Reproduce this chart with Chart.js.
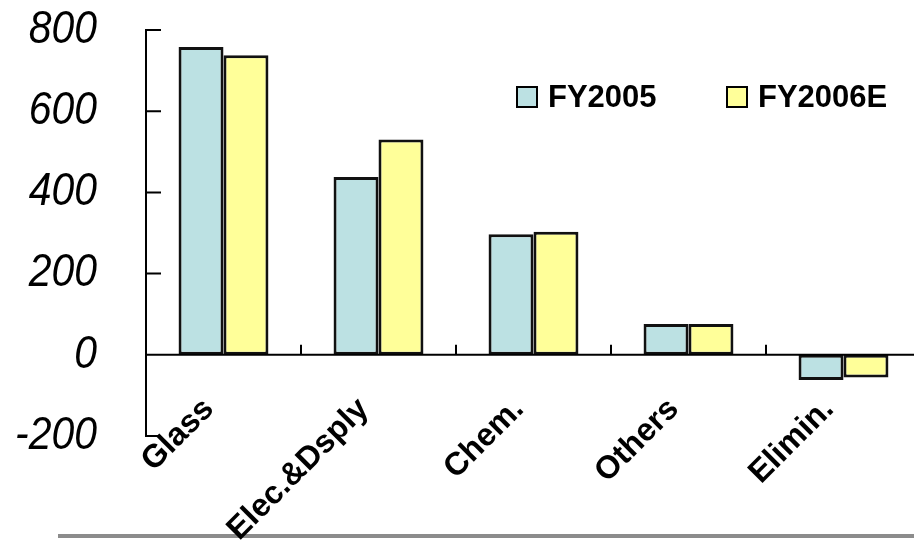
<!DOCTYPE html>
<html>
<head>
<meta charset="utf-8">
<script src="https://cdn.jsdelivr.net/npm/chart.js@4"></script>
<style>
  html, body { margin: 0; padding: 0; background: #fff; overflow: hidden; }
  #wrap { width: 940px; height: 541px; }
</style>
</head>
<body>
<div id="wrap"><canvas id="grafico" width="940" height="541"></canvas></div>
<script>
// Ventas por segmento
const categories = ['Glass', 'Elec.&Dsply', 'Chem.', 'Others', 'Elimin.'];
const fy2005 = [758, 438, 297, 76, -62];
const fy2006e = [738, 530, 303, 76, -56];
const yTicks = [-200, 0, 200, 400, 600, 800];
const seriesNames = ['FY2005', 'FY2006E'];

// ejes, marcas, etiquetas giradas y leyenda
const decor = {
    id: 'decor',
    beforeDraw(chart) {
        const ctx = chart.ctx;
        ctx.save();
        ctx.fillStyle = '#8c8c8c';
        ctx.fillRect(58, 534, chart.width, 4);
        ctx.restore();
    },
    afterDatasetsDraw(chart) {
        const ctx = chart.ctx;
        const area = chart.chartArea;
        const x = chart.scales.x;
        const y = chart.scales.y;
        const y0 = y.getPixelForValue(0);

        ctx.save();
        ctx.strokeStyle = '#000';
        ctx.lineWidth = 2;
        ctx.beginPath();
        ctx.moveTo(area.left, y0);
        ctx.lineTo(chart.width, y0);
        yTicks.forEach(function (v) {
            const py = y.getPixelForValue(v);
            ctx.moveTo(area.left, py);
            ctx.lineTo(area.left + 15, py);
        });
        for (let i = 0; i <= categories.length; i++) {
            const px = x.getPixelForValue(i - 0.5);
            ctx.moveTo(px, y0);
            ctx.lineTo(px, y0 - 10);
        }
        ctx.stroke();

        // numeros del eje y (cursiva estrecha)
        ctx.fillStyle = '#000';
        ctx.font = 'italic 46px "Liberation Sans", Arial, sans-serif';
        ctx.textAlign = 'right';
        ctx.textBaseline = 'middle';
        yTicks.forEach(function (v) {
            ctx.save();
            ctx.translate(97, y.getPixelForValue(v));
            ctx.scale(0.89, 1);
            ctx.fillText(String(v), 0, 0);
            ctx.restore();
        });

        ctx.font = 'bold 32px "Liberation Sans", Arial, sans-serif';
        ctx.textAlign = 'right';
        ctx.textBaseline = 'top';
        categories.forEach(function (c, i) {
            ctx.save();
            ctx.translate(x.getPixelForValue(i) - 26, y0 + 38);
            ctx.rotate(-45 * Math.PI / 180);
            ctx.fillText(c, 0, 0);
            ctx.restore();
        });

        // leyenda
        const legendX = [517, 727];
        ctx.font = 'bold 31px "Liberation Sans", Arial, sans-serif';
        ctx.textAlign = 'left';
        ctx.textBaseline = 'middle';
        chart.data.datasets.forEach(function (ds, i) {
            ctx.fillStyle = ds.backgroundColor;
            ctx.fillRect(legendX[i], 87, 20, 20);
            ctx.strokeStyle = '#000';
            ctx.lineWidth = 2;
            ctx.strokeRect(legendX[i], 87, 20, 20);
            ctx.fillStyle = '#000';
            ctx.fillText(ds.label, legendX[i] + 31, 98);
        });
        ctx.restore();
    }
};

const graph = document.querySelector('#grafico');

new Chart(graph, {
    type: 'bar',
    data: {
        labels: categories,
        datasets: [
            {
                label: seriesNames[0],
                data: fy2005,
                backgroundColor: '#bce1e3',
                borderColor: '#111',
                borderWidth: 3,
                borderSkipped: false
            },
            {
                label: seriesNames[1],
                data: fy2006e,
                backgroundColor: '#ffff99',
                borderColor: '#111',
                borderWidth: 3,
                borderSkipped: false
            }
        ]
    },
    options: {
        responsive: false,
        animation: false,
        devicePixelRatio: 1,
        categoryPercentage: 0.58,
        barPercentage: 1,
        layout: { padding: { left: 0, top: 30, right: 19, bottom: 105 } },
        plugins: {
            legend: { display: false },
            tooltip: { enabled: false }
        },
        scales: {
            x: { display: false },
            y: {
                min: -200,
                max: 800,
                afterBuildTicks: function (s) {
                    s.ticks = yTicks.map(function (v) { return { value: v }; });
                },
                afterFit: function (s) {
                    s.width = 146;
                    s.paddingTop = 0;
                    s.paddingBottom = 0;
                },
                grid: { display: false, drawTicks: false },
                border: { display: true, color: '#000', width: 2 },
                ticks: { display: false }
            }
        }
    },
    plugins: [decor]
});
</script>
</body>
</html>
